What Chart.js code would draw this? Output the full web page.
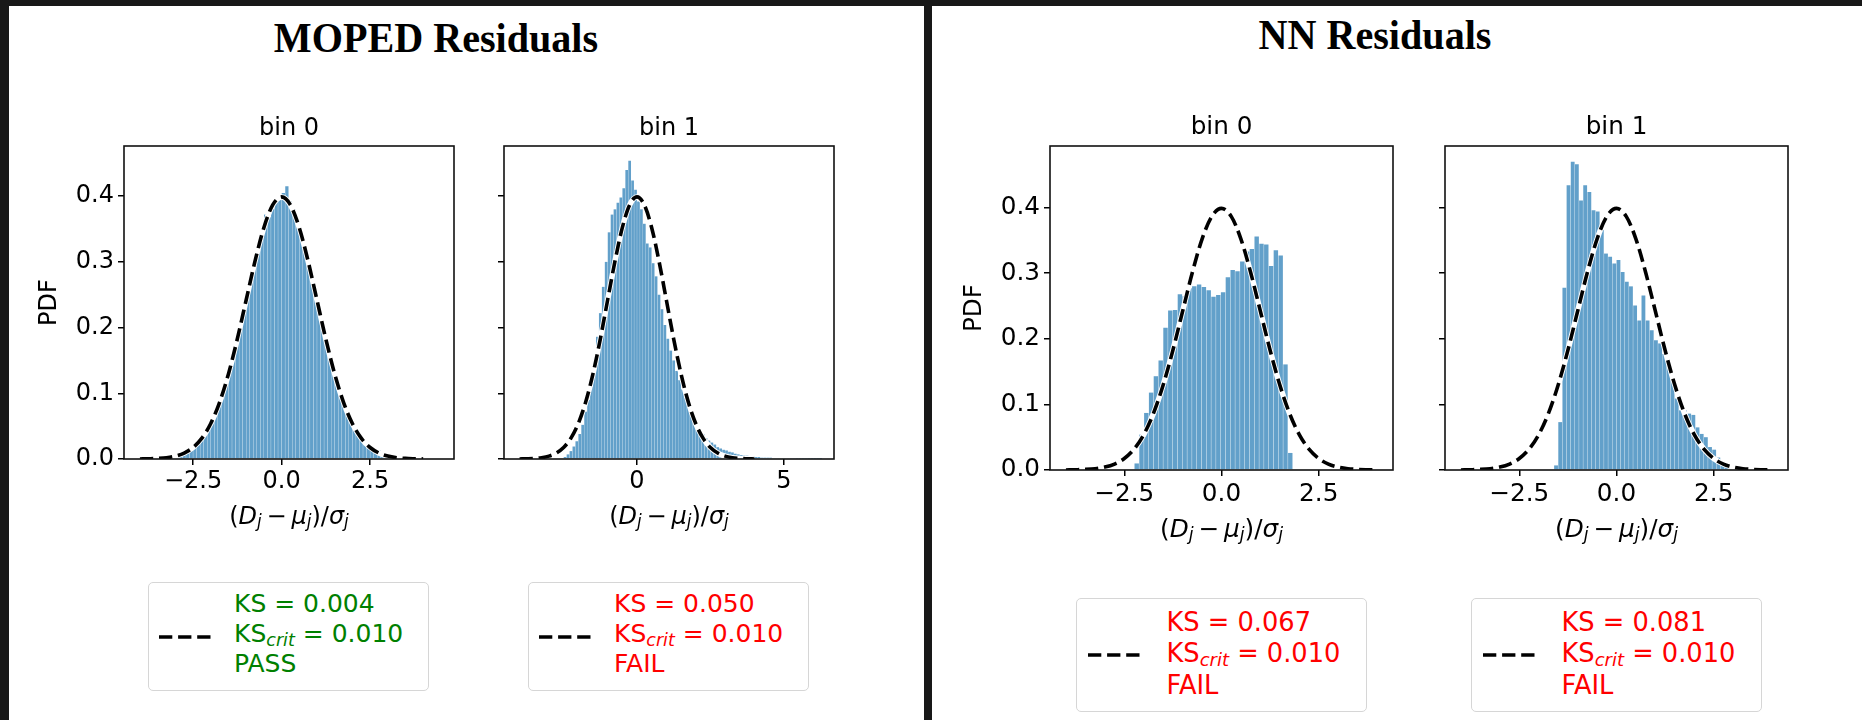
<!DOCTYPE html>
<html lang="en">
<head>
<meta charset="UTF-8">
<title>MOPED vs NN Residuals</title>
<script src="https://cdn.jsdelivr.net/npm/chart.js@4.4.1/dist/chart.umd.min.js"></script>
<style>
    * { margin: 0; padding: 0; box-sizing: border-box; }

    body {
        width: 1862px;
        height: 720px;
        position: relative;
        overflow: hidden;
        background: #181818;
        font-family: 'DejaVu Sans', sans-serif;
        color: #000;
    }

    .panel {
        position: absolute;
        top: 6px;
        height: 714px;
        background: #fff;
    }

    .figtitle {
        position: absolute;
        width: 600px;
        text-align: center;
        font: bold 42px/42px 'Liberation Serif', 'Times New Roman', serif;
        transform: scaleX(0.955);
        white-space: nowrap;
    }

    .plot { position: absolute; }

    .xlabel {
        position: absolute;
        width: 260px;
        text-align: center;
        white-space: nowrap;
    }

    .xlabel sub, .leg sub {
        font-size: 0.7em;
        font-style: italic;
        position: relative;
        top: 0.2em;
        vertical-align: baseline;
        line-height: 0;
    }

    .leg {
        position: absolute;
        background: #fff;
        border: 1.6px solid #d6d6d6;
        border-radius: 5px;
    }

    .leg svg { position: absolute; top: 50%; }
    .leg .txt { position: absolute; white-space: nowrap; }
</style>
</head>
<body>
<div class="panel" style="left:9px; width:915px;"></div>
<div class="panel" style="left:932px; width:930px;"></div>

<div class="figtitle" style="left:136px; top:17px;">MOPED Residuals</div>
<div class="figtitle" style="left:1075px; top:14px;">NN Residuals</div>

<script>
// reference N(0,1) curve drawn dashed on every panel
const gaussX = [-4, -3.75, -3.5, -3.25, -3, -2.75, -2.5, -2.25, -2, -1.75, -1.5, -1.25, -1, -0.75, -0.5, -0.25,
                0, 0.25, 0.5, 0.75, 1, 1.25, 1.5, 1.75, 2, 2.25, 2.5, 2.75, 3, 3.25, 3.5, 3.75, 4];
const gaussPdf = [0.0001, 0.0004, 0.0009, 0.0020, 0.0044, 0.0091, 0.0175, 0.0317, 0.0540, 0.0863, 0.1295, 0.1826,
                  0.2420, 0.3011, 0.3521, 0.3867, 0.3989, 0.3867, 0.3521, 0.3011, 0.2420, 0.1826, 0.1295, 0.0863,
                  0.0540, 0.0317, 0.0175, 0.0091, 0.0044, 0.0020, 0.0009, 0.0004, 0.0001];

// histogram densities: first bin edge, bin width, heights
const mopedBin0Start = -3.5, mopedBin0Width = 0.1;
const mopedBin0 = [0.001, 0.001, 0.002, 0.003, 0.004, 0.005, 0.007, 0.009, 0.012, 0.016,
                   0.020, 0.025, 0.031, 0.040, 0.049, 0.060, 0.072, 0.086, 0.102, 0.120,
                   0.140, 0.160, 0.183, 0.206, 0.229, 0.254, 0.279, 0.302, 0.324, 0.344,
                   0.372, 0.368, 0.381, 0.392, 0.399, 0.405, 0.415, 0.392, 0.380, 0.360,
                   0.343, 0.323, 0.301, 0.278, 0.254, 0.229, 0.206, 0.182, 0.160, 0.140,
                   0.121, 0.103, 0.087, 0.073, 0.060, 0.050, 0.040, 0.032, 0.025, 0.020,
                   0.016, 0.015, 0.013, 0.008, 0.006, 0.004, 0.003, 0.002, 0.0015, 0.001, 0.001];

const mopedBin1Start = -2.5, mopedBin1Width = 0.1;
const mopedBin1 = [0.003, 0.007, 0.012, 0.019, 0.027, 0.038, 0.052, 0.072, 0.090, 0.110,
                   0.140, 0.186, 0.222, 0.262, 0.300, 0.345, 0.372, 0.380, 0.390, 0.398,
                   0.412, 0.440, 0.454, 0.424, 0.410, 0.392, 0.380, 0.358, 0.328, 0.322,
                   0.298, 0.278, 0.250, 0.228, 0.204, 0.183, 0.165, 0.150, 0.134, 0.120,
                   0.106, 0.093, 0.081, 0.070, 0.061, 0.052, 0.044, 0.038, 0.032, 0.028,
                   0.025, 0.022, 0.018, 0.016, 0.014, 0.013, 0.011, 0.010, 0.008, 0.007,
                   0.006, 0.005, 0.005, 0.004, 0.004, 0.003, 0.003, 0.002, 0.002, 0.002,
                   0.002, 0.001, 0.001, 0.001, 0.001, 0.001, 0.001, 0.0008, 0.0008, 0.0006,
                   0.0006, 0.0005, 0.0005, 0.0004, 0.0004, 0.0003, 0.0003, 0.0002];

const nnBin0Start = -2.242, nnBin0Width = 0.1234;
const nnBin0 = [0.010, 0.054, 0.087, 0.118, 0.143, 0.167, 0.217, 0.243, 0.244, 0.268, 0.265,
                0.277, 0.280, 0.283, 0.279, 0.274, 0.264, 0.267, 0.271, 0.294, 0.305, 0.303,
                0.318, 0.333, 0.337, 0.356, 0.345, 0.344, 0.311, 0.335, 0.327, 0.161, 0.026];

const nnBin1Start = -1.608, nnBin1Width = 0.107;
const nnBin1 = [0.007, 0.073, 0.278, 0.434, 0.470, 0.466, 0.411, 0.434, 0.424, 0.396, 0.394,
                0.366, 0.330, 0.325, 0.315, 0.320, 0.302, 0.287, 0.280, 0.251, 0.228, 0.266,
                0.228, 0.213, 0.198, 0.193, 0.177, 0.160, 0.137, 0.109, 0.091, 0.091, 0.086,
                0.084, 0.065, 0.055, 0.050, 0.035, 0.031, 0.019, 0.0125, 0.009, 0.005, 0.002];

// Kolmogorov-Smirnov statistic per panel, and the critical value
const ksStat = [0.004, 0.050, 0.067, 0.081];
const ksCrit = 0.010;
const binNames = ['bin 0', 'bin 1', 'bin 0', 'bin 1'];

Chart.defaults.font.family = "'DejaVu Sans', sans-serif";
Chart.defaults.color = '#000';

const barColor = '#62a0ca';

function histPoints(start, width, heights) {
    return heights.map((h, i) => ({ x: start + width * (i + 0.5), y: h }));
}
const gaussPoints = gaussX.map((x, i) => ({ x: x, y: gaussPdf[i] }));

// black frame around each axes box
const frame = {
    id: 'frame',
    afterDraw(chart) {
        const { ctx, chartArea: a } = chart;
        ctx.save();
        ctx.strokeStyle = '#111';
        ctx.lineWidth = 1.6;
        ctx.strokeRect(a.left, a.top, a.right - a.left, a.bottom - a.top);
        ctx.restore();
    }
};

function tickFormat(dec) {
    return v => (v < 0 ? '\u2212' : '') + Math.abs(v).toFixed(dec);
}

// box = [left, top, right, bottom] of the axes on the page
const plots = [
    { hist: histPoints(mopedBin0Start, mopedBin0Width, mopedBin0), box: [124, 146, 454, 459], yw: 89, fs: 24, pb: 3.2,
      xmin: -4.45, xmax: 4.87, step: 2.5, dec: 1, ymax: 0.4764, pdf: true, xpad: 2 },
    { hist: histPoints(mopedBin1Start, mopedBin1Width, mopedBin1), box: [504, 146, 834, 459], yw: 20, fs: 24, pb: 3.2,
      xmin: -4.53, xmax: 6.71, step: 5, dec: 0, ymax: 0.4764, pdf: false, xpad: 2 },
    { hist: histPoints(nnBin0Start, nnBin0Width, nnBin0), box: [1050, 146, 1393, 470], yw: 90, fs: 24.7, pb: 3.36,
      xmin: -4.41, xmax: 4.41, step: 2.5, dec: 1, ymax: 0.494, pdf: true, xpad: 3.5 },
    { hist: histPoints(nnBin1Start, nnBin1Width, nnBin1), box: [1445, 146, 1788, 470], yw: 20, fs: 24.7, pb: 3.36,
      xmin: -4.41, xmax: 4.41, step: 2.5, dec: 1, ymax: 0.494, pdf: false, xpad: 3.5 }
];

// legend boxes under each axes: [left, top, width, height]
const legends = [
    { box: [148, 582, 281, 109], fs: 25, lh: 30, tx: 85, ty: 6, dx: 9.5 },
    { box: [528, 582, 281, 109], fs: 25, lh: 30, tx: 85, ty: 6, dx: 9.5 },
    { box: [1076, 598, 291, 114], fs: 25.7, lh: 31.7, tx: 89.5, ty: 7.5, dx: 10.5 },
    { box: [1471, 598, 291, 114], fs: 25.7, lh: 31.7, tx: 89.5, ty: 7.5, dx: 10.5 }
];

plots.forEach((p, k) => {
    const th = p.fs * 1.2 + p.pb;
    const left = p.box[0] - p.yw;
    const top = p.box[1] - th;
    const wrap = document.createElement('div');
    wrap.className = 'plot';
    wrap.style.left = left + 'px';
    wrap.style.top = Math.round(top) + 'px';
    const canvas = document.createElement('canvas');
    canvas.width = p.box[2] - left + 12;
    canvas.height = Math.round(p.box[3] - top + 45);
    wrap.appendChild(canvas);
    document.body.appendChild(wrap);

    new Chart(canvas, {
        type: 'bar',
        data: {
            datasets: [
                {
                    type: 'line', data: gaussPoints, order: 0,
                    borderColor: '#000', borderWidth: 3.6, borderDash: [13.3, 5.8],
                    pointRadius: 0, cubicInterpolationMode: 'monotone', fill: false
                },
                {
                    type: 'line', data: gaussPoints, order: 1, clip: 0,
                    borderColor: '#fff', borderWidth: 5.5,
                    pointRadius: 0, cubicInterpolationMode: 'monotone', fill: false
                },
                {
                    data: p.hist, order: 2,
                    backgroundColor: barColor,
                    barPercentage: 0.92, categoryPercentage: 1
                }
            ]
        },
        options: {
            responsive: false,
            animation: false,
            devicePixelRatio: 1,
            layout: { padding: { right: 12 } },
            plugins: {
                legend: { display: false },
                tooltip: { enabled: false },
                title: {
                    display: true, text: binNames[k], fullSize: false,
                    font: { size: p.fs, weight: 'normal' },
                    padding: { top: 0, bottom: p.pb }
                }
            },
            scales: {
                x: {
                    type: 'linear', min: p.xmin, max: p.xmax, offset: false,
                    border: { display: false },
                    grid: { offset: false, drawOnChartArea: false, drawTicks: true, tickLength: 6, color: '#000', lineWidth: 1.5 },
                    ticks: {
                        stepSize: p.step, includeBounds: false, autoSkip: false, maxRotation: 0,
                        padding: p.xpad, font: { size: p.fs }, callback: tickFormat(p.dec)
                    },
                    afterFit: s => { s.height = 45; }
                },
                y: {
                    min: 0, max: p.ymax,
                    border: { display: false },
                    grid: { drawOnChartArea: false, drawTicks: true, tickLength: 6, color: '#000', lineWidth: 1.5 },
                    ticks: {
                        display: p.pdf, stepSize: 0.1, includeBounds: false, padding: 4,
                        font: { size: p.fs }, callback: tickFormat(1)
                    },
                    title: { display: p.pdf, text: 'PDF', font: { size: p.fs }, padding: 0 },
                    afterFit: s => { s.width = p.yw; }
                }
            }
        },
        plugins: [frame]
    });

    // x axis label with subscripts
    const xl = document.createElement('div');
    xl.className = 'xlabel';
    const cx = (p.box[0] + p.box[2]) / 2;
    const cy = k < 2 ? 517 : 530;
    xl.style.left = (cx - 130) + 'px';
    xl.style.top = (cy - p.fs * 0.536) + 'px';
    xl.style.fontSize = p.fs + 'px';
    xl.style.lineHeight = p.fs + 'px';
    xl.innerHTML = '(<i>D</i><sub>j</sub>\u2009\u2212\u2009<i>\u03bc</i><sub>j</sub>)/<i>\u03c3</i><sub>j</sub>';
    document.body.appendChild(xl);

    // legend: dashed handle plus KS result
    const L = legends[k];
    const pass = ksStat[k] < ksCrit;
    const leg = document.createElement('div');
    leg.className = 'leg';
    leg.style.left = L.box[0] + 'px';
    leg.style.top = L.box[1] + 'px';
    leg.style.width = L.box[2] + 'px';
    leg.style.height = L.box[3] + 'px';
    leg.innerHTML =
        '<svg width="54" height="8" style="left:' + L.dx + 'px; margin-top:-4px;">' +
        '<line x1="0" y1="4" x2="52" y2="4" stroke="#000" stroke-width="3.6" stroke-dasharray="13.3 5.8"/></svg>' +
        '<div class="txt" style="left:' + L.tx + 'px; top:' + L.ty + 'px; font-size:' + L.fs + 'px; line-height:' + L.lh + 'px; color:' +
        (pass ? '#008000' : '#ff0000') + ';">' +
        'KS = ' + ksStat[k].toFixed(3) + '<br>' +
        'KS<sub>crit</sub> = ' + ksCrit.toFixed(3) + '<br>' +
        (pass ? 'PASS' : 'FAIL') + '</div>';
    document.body.appendChild(leg);
});
</script>
</body>
</html>
